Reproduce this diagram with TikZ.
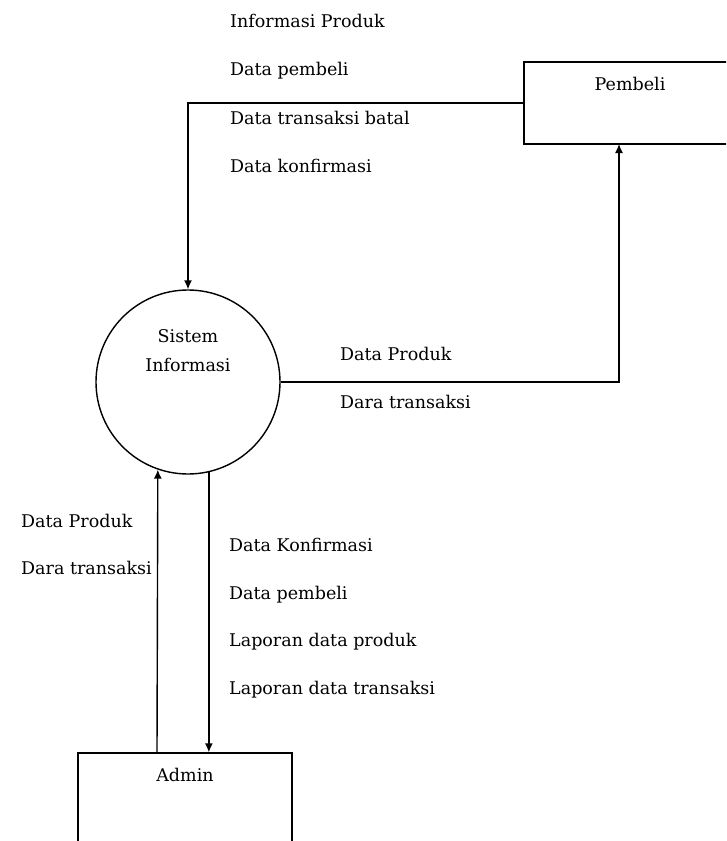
\documentclass[tikz,border=0pt]{standalone}
\usepackage{fontspec}
\setmainfont{DejaVu Serif}
\usetikzlibrary{arrows.meta}
\begin{document}
\begin{tikzpicture}[x=1pt,y=-1pt,
  flow/.style={line width=1.4pt,-{Latex[length=9pt,width=8pt]}},
  entity/.style={draw,line width=1.4pt,rectangle,inner sep=0pt},
  proc/.style={draw,line width=1.4pt,circle,inner sep=0pt,minimum size=184pt},
  lbl/.style={anchor=west,inner sep=0pt,font=\fontsize{17.5}{20}\selectfont,text height=12pt,text depth=4pt},
  title/.style={inner sep=0pt,font=\fontsize{17.5}{20}\selectfont,text height=12pt,text depth=4pt}]
\useasboundingbox (0,0) rectangle (726,841);
\clip (0,0) rectangle (726,841);

% external entities and the process
\node[entity,minimum width=240pt,minimum height=82pt] (pembeli) at (644,103) {};
\node[title] (pembelitxt) at (630,86) {Pembeli};
\node[proc] (sys) at (188,382) {};
\node[title] (sys1) at (188,338) {Sistem};
\node[title] (sys2) at (188,367) {Informasi};
\node[entity,minimum width=214pt,minimum height=130pt] (admin) at (185,818) {};
\node[title] (admintxt) at (185,777) {Admin};

% points where the flows meet the boxes
\coordinate (pin) at (619,144);
\coordinate (aout) at (157,753);

% data flows
\draw[flow] (pembeli.west) -| (sys.north);
\draw[flow] (sys.east) -| (pin);
\draw[flow] (aout) -- (sys.251);
\draw[flow] (sys.283) -- (sys.283 |- admin.north);

% labels: Pembeli -> Sistem
\node[lbl] (l1) at (230,23) {Informasi Produk};
\node[lbl] (l2) at (230,71) {Data pembeli};
\node[lbl] (l3) at (230,120) {Data transaksi batal};
\node[lbl] (l4) at (230,168) {Data konfirmasi};

% labels: Sistem -> Pembeli
\node[lbl] (l5) at (340,356) {Data Produk};
\node[lbl] (l6) at (340,404) {Dara transaksi};

% labels: Admin -> Sistem
\node[lbl] (l7) at (21,523) {Data Produk};
\node[lbl] (l8) at (21,570) {Dara transaksi};

% labels: Sistem -> Admin
\node[lbl] (l9) at (229,547) {Data Konfirmasi};
\node[lbl] (l10) at (229,595) {Data pembeli};
\node[lbl] (l11) at (229,642) {Laporan data produk};
\node[lbl] (l12) at (229,690) {Laporan data transaksi};
\end{tikzpicture}
\end{document}
